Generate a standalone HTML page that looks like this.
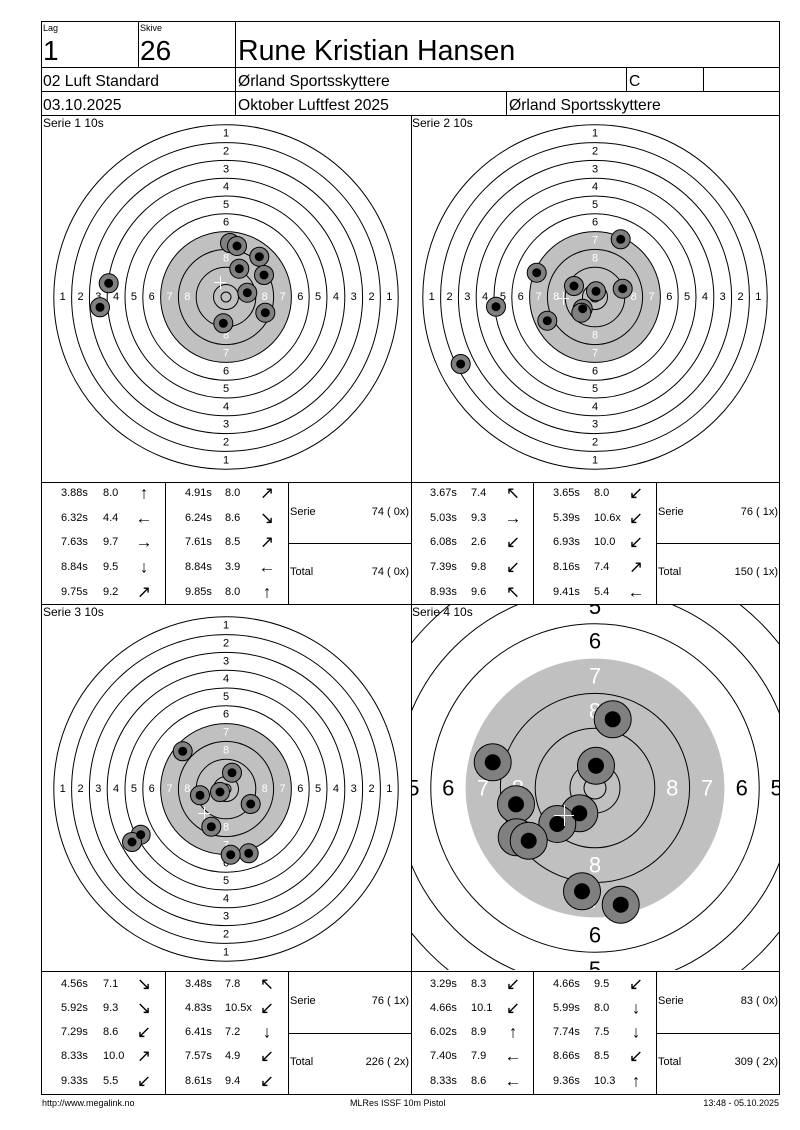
<!DOCTYPE html>
<html><head><meta charset="utf-8"><style>
html,body{margin:0;padding:0;background:#fff}
svg{display:block}
text{font-family:"Liberation Sans",Arial,sans-serif}
.a{font-size:17px}
</style></head><body>
<svg width="800" height="1130" viewBox="0 0 800 1130" xmlns="http://www.w3.org/2000/svg">
<defs>
<clipPath id="c4"><rect x="412" y="605" width="367" height="365"/></clipPath>
</defs>
<rect width="800" height="1130" fill="#fff"/>

<!-- header -->
<g stroke="#000" stroke-width="1" fill="none">
<rect x="41.5" y="21.5" width="738" height="1073"/>
<line x1="41" y1="67.5" x2="780" y2="67.5"/>
<line x1="41" y1="91.5" x2="780" y2="91.5"/>
<line x1="41" y1="115.5" x2="780" y2="115.5"/>
<line x1="138.5" y1="21" x2="138.5" y2="67"/>
<line x1="235.5" y1="21" x2="235.5" y2="115"/>
<line x1="626.5" y1="67" x2="626.5" y2="91"/>
<line x1="703.5" y1="67" x2="703.5" y2="91"/>
<line x1="506.5" y1="91" x2="506.5" y2="115"/>
<line x1="411.5" y1="115" x2="411.5" y2="1094"/>
<line x1="41" y1="482.5" x2="780" y2="482.5"/>
<line x1="41" y1="604.5" x2="780" y2="604.5"/>
<line x1="41" y1="971.5" x2="780" y2="971.5"/>
<line x1="165.5" y1="482" x2="165.5" y2="604"/>
<line x1="288.5" y1="482" x2="288.5" y2="604"/>
<line x1="288" y1="543.5" x2="411" y2="543.5"/>
<line x1="533.5" y1="482" x2="533.5" y2="604"/>
<line x1="656.5" y1="482" x2="656.5" y2="604"/>
<line x1="656" y1="543.5" x2="780" y2="543.5"/>
<line x1="165.5" y1="971" x2="165.5" y2="1094"/>
<line x1="288.5" y1="971" x2="288.5" y2="1094"/>
<line x1="288" y1="1033.5" x2="411" y2="1033.5"/>
<line x1="533.5" y1="971" x2="533.5" y2="1094"/>
<line x1="656.5" y1="971" x2="656.5" y2="1094"/>
<line x1="656" y1="1033.5" x2="780" y2="1033.5"/>
</g>
<g fill="#000">
<text x="43" y="31" font-size="9">Lag</text>
<text x="140" y="31" font-size="9">Skive</text>
<text x="43" y="60" font-size="28">1</text>
<text x="140" y="60" font-size="28">26</text>
<text x="238" y="60" font-size="28.5">Rune Kristian Hansen</text>
<text x="43" y="86" font-size="15.7">02 Luft Standard</text>
<text x="238" y="86" font-size="15.7">Ørland Sportsskyttere</text>
<text x="629" y="86" font-size="15.7">C</text>
<text x="43" y="110" font-size="15.7">03.10.2025</text>
<text x="238" y="110" font-size="15.7">Oktober Luftfest 2025</text>
<text x="509" y="110" font-size="15.7">Ørland Sportsskyttere</text>
</g>

<!-- Target 1 -->
<g transform="translate(226,297)">
<circle r="65.4" fill="#c0c0c0"/>
<g fill="none" stroke="#000">
<circle r="172.2"/><circle r="154.4"/><circle r="136.6"/><circle r="118.8"/><circle r="101"/><circle r="83.2"/><circle r="65.4"/><circle r="47.6"/><circle r="29.8"/><circle r="12.5"/><circle r="5"/>
</g>
<g font-size="11" text-anchor="middle" dominant-baseline="central" fill="#000">
<text y="-163.3">1</text><text y="-145.5">2</text><text y="-127.7">3</text><text y="-109.9">4</text><text y="-92.1">5</text><text y="-74.3">6</text>
<text y="163.3">1</text><text y="145.5">2</text><text y="127.7">3</text><text y="109.9">4</text><text y="92.1">5</text><text y="74.3">6</text>
<text x="-163.3">1</text><text x="-145.5">2</text><text x="-127.7">3</text><text x="-109.9">4</text><text x="-92.1">5</text><text x="-74.3">6</text>
<text x="163.3">1</text><text x="145.5">2</text><text x="127.7">3</text><text x="109.9">4</text><text x="92.1">5</text><text x="74.3">6</text>
<g fill="#fff"><text y="-56.5">7</text><text y="-38.7">8</text><text y="56.5">7</text><text y="38.7">8</text><text x="-56.5">7</text><text x="-38.7">8</text><text x="56.5">7</text><text x="38.7">8</text></g>
</g>
</g>
<g stroke="#fff" stroke-width="1"><line x1="214" y1="282.5" x2="226" y2="282.5"/><line x1="220.5" y1="276" x2="220.5" y2="289"/></g>
<g stroke="#000" fill="#808080">
<circle cx="230" cy="243" r="9.5"/><circle cx="237" cy="246" r="9.5"/><circle cx="259.3" cy="256.7" r="9.5"/><circle cx="239.3" cy="268.7" r="9.5"/><circle cx="264" cy="275" r="9.5"/><circle cx="247.3" cy="292.7" r="9.5"/><circle cx="265.3" cy="312.7" r="9.5"/><circle cx="223.3" cy="323.3" r="9.5"/><circle cx="108.7" cy="283.3" r="9.5"/><circle cx="100" cy="307.3" r="9.5"/>
</g>
<g fill="#000">
<circle cx="237" cy="246" r="4.5"/><circle cx="259.3" cy="256.7" r="4.5"/><circle cx="239.3" cy="268.7" r="4.5"/><circle cx="264" cy="275" r="4.5"/><circle cx="247.3" cy="292.7" r="4.5"/><circle cx="265.3" cy="312.7" r="4.5"/><circle cx="223.3" cy="323.3" r="4.5"/><circle cx="108.7" cy="283.3" r="4.5"/><circle cx="100" cy="307.3" r="4.5"/>
</g>

<!-- Target 2 -->
<g transform="translate(595,297)">
<circle r="65.4" fill="#c0c0c0"/>
<g fill="none" stroke="#000">
<circle r="172.2"/><circle r="154.4"/><circle r="136.6"/><circle r="118.8"/><circle r="101"/><circle r="83.2"/><circle r="65.4"/><circle r="47.6"/><circle r="29.8"/><circle r="12.5"/><circle r="5"/>
</g>
<g font-size="11" text-anchor="middle" dominant-baseline="central" fill="#000">
<text y="-163.3">1</text><text y="-145.5">2</text><text y="-127.7">3</text><text y="-109.9">4</text><text y="-92.1">5</text><text y="-74.3">6</text>
<text y="163.3">1</text><text y="145.5">2</text><text y="127.7">3</text><text y="109.9">4</text><text y="92.1">5</text><text y="74.3">6</text>
<text x="-163.3">1</text><text x="-145.5">2</text><text x="-127.7">3</text><text x="-109.9">4</text><text x="-92.1">5</text><text x="-74.3">6</text>
<text x="163.3">1</text><text x="145.5">2</text><text x="127.7">3</text><text x="109.9">4</text><text x="92.1">5</text><text x="74.3">6</text>
<g fill="#fff"><text y="-56.5">7</text><text y="-38.7">8</text><text y="56.5">7</text><text y="38.7">8</text><text x="-56.5">7</text><text x="-38.7">8</text><text x="56.5">7</text><text x="38.7">8</text></g>
</g>
</g>
<g stroke="#fff" stroke-width="1"><line x1="557" y1="298.5" x2="569" y2="298.5"/><line x1="563.5" y1="292" x2="563.5" y2="305"/></g>
<g stroke="#000" fill="#808080">
<circle cx="620.7" cy="239.3" r="9.5"/><circle cx="536.7" cy="272.7" r="9.5"/><circle cx="574" cy="286" r="9.5"/><circle cx="596" cy="291.3" r="9.5"/><circle cx="622.7" cy="288.7" r="9.5"/><circle cx="582.7" cy="308.7" r="9.5"/><circle cx="581.3" cy="312.7" r="9.5"/><circle cx="547.3" cy="320.7" r="9.5"/><circle cx="496" cy="306.7" r="9.5"/><circle cx="460.7" cy="364" r="9.5"/>
</g>
<g fill="#000">
<circle cx="620.7" cy="239.3" r="4.5"/><circle cx="536.7" cy="272.7" r="4.5"/><circle cx="574" cy="286" r="4.5"/><circle cx="596" cy="291.3" r="4.5"/><circle cx="622.7" cy="288.7" r="4.5"/><circle cx="582.7" cy="308.7" r="4.5"/><circle cx="547.3" cy="320.7" r="4.5"/><circle cx="496" cy="306.7" r="4.5"/><circle cx="460.7" cy="364" r="4.5"/>
</g>

<!-- Target 3 -->
<g transform="translate(226,789)">
<circle r="65.4" fill="#c0c0c0"/>
<g fill="none" stroke="#000">
<circle r="172.2"/><circle r="154.4"/><circle r="136.6"/><circle r="118.8"/><circle r="101"/><circle r="83.2"/><circle r="65.4"/><circle r="47.6"/><circle r="29.8"/><circle r="12.5"/><circle r="5"/>
</g>
<g font-size="11" text-anchor="middle" dominant-baseline="central" fill="#000">
<text y="-163.3">1</text><text y="-145.5">2</text><text y="-127.7">3</text><text y="-109.9">4</text><text y="-92.1">5</text><text y="-74.3">6</text>
<text y="163.3">1</text><text y="145.5">2</text><text y="127.7">3</text><text y="109.9">4</text><text y="92.1">5</text><text y="74.3">6</text>
<text x="-163.3">1</text><text x="-145.5">2</text><text x="-127.7">3</text><text x="-109.9">4</text><text x="-92.1">5</text><text x="-74.3">6</text>
<text x="163.3">1</text><text x="145.5">2</text><text x="127.7">3</text><text x="109.9">4</text><text x="92.1">5</text><text x="74.3">6</text>
<g fill="#fff"><text y="-56.5">7</text><text y="-38.7">8</text><text y="56.5">7</text><text y="38.7">8</text><text x="-56.5">7</text><text x="-38.7">8</text><text x="56.5">7</text><text x="38.7">8</text></g>
</g>
</g>
<g stroke="#fff" stroke-width="1"><line x1="198" y1="813.5" x2="210" y2="813.5"/><line x1="204.5" y1="807" x2="204.5" y2="820"/></g>
<g stroke="#000" fill="#808080">
<circle cx="182.7" cy="751.3" r="9.5"/><circle cx="232" cy="772.7" r="9.5"/><circle cx="200" cy="795.3" r="9.5"/><circle cx="220" cy="792" r="9.5"/><circle cx="250.7" cy="804" r="9.5"/><circle cx="211.3" cy="826.7" r="9.5"/><circle cx="248.7" cy="853.3" r="9.5"/><circle cx="230.7" cy="854.7" r="9.5"/><circle cx="140.7" cy="834.7" r="9.5"/><circle cx="132" cy="842" r="9.5"/>
</g>
<g fill="#000">
<circle cx="182.7" cy="751.3" r="4.5"/><circle cx="232" cy="772.7" r="4.5"/><circle cx="200" cy="795.3" r="4.5"/><circle cx="220" cy="792" r="4.5"/><circle cx="250.7" cy="804" r="4.5"/><circle cx="211.3" cy="826.7" r="4.5"/><circle cx="248.7" cy="853.3" r="4.5"/><circle cx="230.7" cy="854.7" r="4.5"/><circle cx="140.7" cy="834.7" r="4.5"/><circle cx="132" cy="842" r="4.5"/>
</g>

<!-- Target 4 (zoomed) -->
<g clip-path="url(#c4)">
<g transform="translate(595,788)">
<circle r="129.4" fill="#c0c0c0"/>
<g fill="none" stroke="#000">
<circle r="303.4"/><circle r="268.6"/><circle r="233.8"/><circle r="199"/><circle r="164.2"/><circle r="94.6"/><circle r="59.8"/><circle r="25"/><circle r="11"/>
</g>
<g font-size="22" text-anchor="middle" dominant-baseline="central" fill="#000">
<text y="-181.6">5</text><text y="-146.8">6</text><text y="181.6">5</text><text y="146.8">6</text>
<text x="-181.6">5</text><text x="-146.8">6</text><text x="181.6">5</text><text x="146.8">6</text>
<g fill="#fff"><text y="-112">7</text><text y="-77.2">8</text><text y="112">7</text><text y="77.2">8</text><text x="-112">7</text><text x="-77.2">8</text><text x="112">7</text><text x="77.2">8</text></g>
</g>
</g>
</g>
<g stroke="#000" fill="#808080">
<circle cx="612.7" cy="719.3" r="18.5"/><circle cx="492.7" cy="762.3" r="18.5"/><circle cx="596" cy="765.7" r="18.5"/><circle cx="516" cy="804.3" r="18.5"/><circle cx="579.3" cy="813.3" r="18.5"/><circle cx="557.3" cy="824" r="18.5"/><circle cx="516.7" cy="837.3" r="18.5"/><circle cx="528.7" cy="840.7" r="18.5"/><circle cx="582" cy="891.3" r="18.5"/><circle cx="620.7" cy="904.7" r="18.5"/>
</g>
<g fill="#000">
<circle cx="612.7" cy="719.3" r="8"/><circle cx="492.7" cy="762.3" r="8"/><circle cx="596" cy="765.7" r="8"/><circle cx="516" cy="804.3" r="8"/><circle cx="579.3" cy="813.3" r="8"/><circle cx="557.3" cy="824" r="8"/><circle cx="528.7" cy="840.7" r="8"/><circle cx="582" cy="891.3" r="8"/><circle cx="620.7" cy="904.7" r="8"/>
</g>
<g stroke="#fff" stroke-width="1"><line x1="554" y1="815.5" x2="574" y2="815.5"/><line x1="564.5" y1="805" x2="564.5" y2="826"/></g>

<!-- Serie titles -->
<g font-size="12" fill="#000">
<text x="43" y="127">Serie 1 10s</text>
<text x="412" y="127">Serie 2 10s</text>
<text x="43" y="616">Serie 3 10s</text>
<text x="412" y="616">Serie 4 10s</text>
</g>

<!-- Tables -->
<g font-size="11" fill="#000" dominant-baseline="central">
<!-- table 1 -->
<text x="61" y="493">3.88s</text><text x="103" y="493">8.0</text><text class="a" x="144" y="493" text-anchor="middle">↑</text>
<text x="61" y="518">6.32s</text><text x="103" y="518">4.4</text><text class="a" x="144" y="518" text-anchor="middle">←</text>
<text x="61" y="542">7.63s</text><text x="103" y="542">9.7</text><text class="a" x="144" y="542" text-anchor="middle">→</text>
<text x="61" y="567">8.84s</text><text x="103" y="567">9.5</text><text class="a" x="144" y="567" text-anchor="middle">↓</text>
<text x="61" y="592">9.75s</text><text x="103" y="592">9.2</text><text class="a" x="144" y="592" text-anchor="middle">↗</text>
<text x="185" y="493">4.91s</text><text x="225" y="493">8.0</text><text class="a" x="267" y="493" text-anchor="middle">↗</text>
<text x="185" y="518">6.24s</text><text x="225" y="518">8.6</text><text class="a" x="267" y="518" text-anchor="middle">↘</text>
<text x="185" y="542">7.61s</text><text x="225" y="542">8.5</text><text class="a" x="267" y="542" text-anchor="middle">↗</text>
<text x="185" y="567">8.84s</text><text x="225" y="567">3.9</text><text class="a" x="267" y="567" text-anchor="middle">←</text>
<text x="185" y="592">9.85s</text><text x="225" y="592">8.0</text><text class="a" x="267" y="592" text-anchor="middle">↑</text>
<text x="290" y="512">Serie</text><text x="409" y="512" text-anchor="end">74 ( 0x)</text>
<text x="290" y="572">Total</text><text x="409" y="572" text-anchor="end">74 ( 0x)</text>
<!-- table 2 -->
<text x="430" y="493">3.67s</text><text x="471" y="493">7.4</text><text class="a" x="513" y="493" text-anchor="middle">↖</text>
<text x="430" y="518">5.03s</text><text x="471" y="518">9.3</text><text class="a" x="513" y="518" text-anchor="middle">→</text>
<text x="430" y="542">6.08s</text><text x="471" y="542">2.6</text><text class="a" x="513" y="542" text-anchor="middle">↙</text>
<text x="430" y="567">7.39s</text><text x="471" y="567">9.8</text><text class="a" x="513" y="567" text-anchor="middle">↙</text>
<text x="430" y="592">8.93s</text><text x="471" y="592">9.6</text><text class="a" x="513" y="592" text-anchor="middle">↖</text>
<text x="553" y="493">3.65s</text><text x="594" y="493">8.0</text><text class="a" x="636" y="493" text-anchor="middle">↙</text>
<text x="553" y="518">5.39s</text><text x="594" y="518">10.6x</text><text class="a" x="636" y="518" text-anchor="middle">↙</text>
<text x="553" y="542">6.93s</text><text x="594" y="542">10.0</text><text class="a" x="636" y="542" text-anchor="middle">↙</text>
<text x="553" y="567">8.16s</text><text x="594" y="567">7.4</text><text class="a" x="636" y="567" text-anchor="middle">↗</text>
<text x="553" y="592">9.41s</text><text x="594" y="592">5.4</text><text class="a" x="636" y="592" text-anchor="middle">←</text>
<text x="658" y="512">Serie</text><text x="778" y="512" text-anchor="end">76 ( 1x)</text>
<text x="658" y="572">Total</text><text x="778" y="572" text-anchor="end">150 ( 1x)</text>
<!-- table 3 -->
<text x="61" y="984">4.56s</text><text x="103" y="984">7.1</text><text class="a" x="144" y="984" text-anchor="middle">↘</text>
<text x="61" y="1008">5.92s</text><text x="103" y="1008">9.3</text><text class="a" x="144" y="1008" text-anchor="middle">↘</text>
<text x="61" y="1032">7.29s</text><text x="103" y="1032">8.6</text><text class="a" x="144" y="1032" text-anchor="middle">↙</text>
<text x="61" y="1056">8.33s</text><text x="103" y="1056">10.0</text><text class="a" x="144" y="1056" text-anchor="middle">↗</text>
<text x="61" y="1081">9.33s</text><text x="103" y="1081">5.5</text><text class="a" x="144" y="1081" text-anchor="middle">↙</text>
<text x="185" y="984">3.48s</text><text x="225" y="984">7.8</text><text class="a" x="267" y="984" text-anchor="middle">↖</text>
<text x="185" y="1008">4.83s</text><text x="225" y="1008">10.5x</text><text class="a" x="267" y="1008" text-anchor="middle">↙</text>
<text x="185" y="1032">6.41s</text><text x="225" y="1032">7.2</text><text class="a" x="267" y="1032" text-anchor="middle">↓</text>
<text x="185" y="1056">7.57s</text><text x="225" y="1056">4.9</text><text class="a" x="267" y="1056" text-anchor="middle">↙</text>
<text x="185" y="1081">8.61s</text><text x="225" y="1081">9.4</text><text class="a" x="267" y="1081" text-anchor="middle">↙</text>
<text x="290" y="1001">Serie</text><text x="409" y="1001" text-anchor="end">76 ( 1x)</text>
<text x="290" y="1062">Total</text><text x="409" y="1062" text-anchor="end">226 ( 2x)</text>
<!-- table 4 -->
<text x="430" y="984">3.29s</text><text x="471" y="984">8.3</text><text class="a" x="513" y="984" text-anchor="middle">↙</text>
<text x="430" y="1008">4.66s</text><text x="471" y="1008">10.1</text><text class="a" x="513" y="1008" text-anchor="middle">↙</text>
<text x="430" y="1032">6.02s</text><text x="471" y="1032">8.9</text><text class="a" x="513" y="1032" text-anchor="middle">↑</text>
<text x="430" y="1056">7.40s</text><text x="471" y="1056">7.9</text><text class="a" x="513" y="1056" text-anchor="middle">←</text>
<text x="430" y="1081">8.33s</text><text x="471" y="1081">8.6</text><text class="a" x="513" y="1081" text-anchor="middle">←</text>
<text x="553" y="984">4.66s</text><text x="594" y="984">9.5</text><text class="a" x="636" y="984" text-anchor="middle">↙</text>
<text x="553" y="1008">5.99s</text><text x="594" y="1008">8.0</text><text class="a" x="636" y="1008" text-anchor="middle">↓</text>
<text x="553" y="1032">7.74s</text><text x="594" y="1032">7.5</text><text class="a" x="636" y="1032" text-anchor="middle">↓</text>
<text x="553" y="1056">8.66s</text><text x="594" y="1056">8.5</text><text class="a" x="636" y="1056" text-anchor="middle">↙</text>
<text x="553" y="1081">9.36s</text><text x="594" y="1081">10.3</text><text class="a" x="636" y="1081" text-anchor="middle">↑</text>
<text x="658" y="1001">Serie</text><text x="778" y="1001" text-anchor="end">83 ( 0x)</text>
<text x="658" y="1062">Total</text><text x="778" y="1062" text-anchor="end">309 ( 2x)</text>
</g>

<!-- footer -->
<g font-size="9" fill="#000">
<text x="42" y="1106">http://www.megalink.no</text>
<text x="350" y="1106">MLRes ISSF 10m Pistol</text>
<text x="779" y="1106" text-anchor="end">13:48 - 05.10.2025</text>
</g>
</svg>
</body></html>
